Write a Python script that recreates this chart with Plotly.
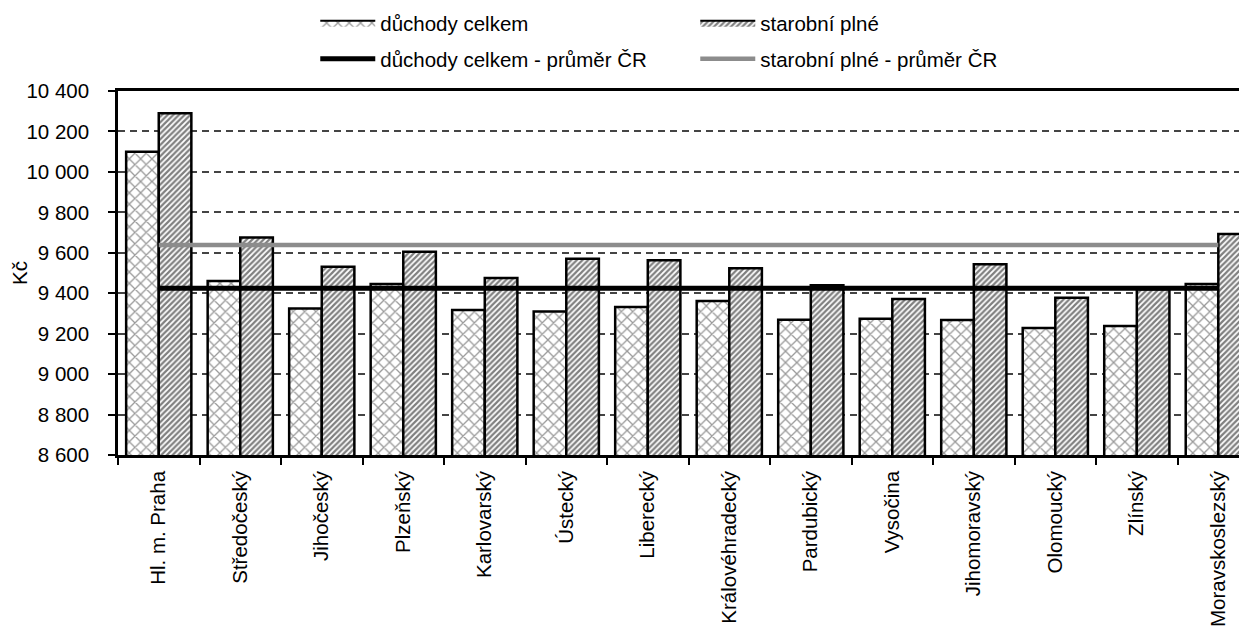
import plotly.graph_objects as go

regions = ["Hl. m. Praha", "Středočeský", "Jihočeský", "Plzeňský", "Karlovarský",
           "Ústecký", "Liberecký", "Královéhradecký", "Pardubický", "Vysočina",
           "Jihomoravský", "Olomoucký", "Zlínský", "Moravskoslezský"]
duchody_celkem = [10100, 9460, 9324, 9445, 9317, 9309, 9332, 9361, 9269, 9274, 9267, 9228, 9238, 9445]
starobni_plne = [10290, 9675, 9531, 9605, 9475, 9571, 9563, 9523, 9439, 9371, 9543, 9378, 9420, 9693]
prumer_celkem = 9424
prumer_starobni = 9638
y_ticks = [8600, 8800, 9000, 9200, 9400, 9600, 9800, 10000, 10200, 10400]
y_tick_text = ["8 600", "8 800", "9 000", "9 200", "9 400", "9 600", "9 800", "10 000", "10 200", "10 400"]

FONT = "Liberation Sans, Arial, sans-serif"
FS = 20.5

pat_celkem = dict(shape="x", fgcolor="#333333", bgcolor="white", size=8, solidity=0.3)
pat_starobni = dict(shape="/", fgcolor="#000000", bgcolor="white", size=4, solidity=0.55)

fig = go.Figure()
fig.add_trace(go.Bar(
    x=regions, y=duchody_celkem, name="důchody celkem", showlegend=False,
    marker=dict(color="white", line=dict(color="black", width=2.5), pattern=pat_celkem),
))
fig.add_trace(go.Bar(
    x=regions, y=starobni_plne, name="starobní plné", showlegend=False,
    marker=dict(color="white", line=dict(color="black", width=2.5), pattern=pat_starobni),
))
# legend-only entries (wide patterned keys like the original legend)
fig.add_trace(go.Scatter(
    x=[None], y=[None], name="důchody celkem", legend="legend", mode="lines",
    fill="toself", fillcolor="white", fillpattern=pat_celkem,
    line=dict(color="black", width=2),
))
fig.add_trace(go.Scatter(
    x=[None], y=[None], name="starobní plné", legend="legend", mode="lines",
    fill="toself", fillcolor="white", fillpattern=pat_starobni,
    line=dict(color="black", width=2),
))
fig.add_trace(go.Scatter(
    x=regions, y=[prumer_celkem] * len(regions), name="důchody celkem - průměr ČR",
    mode="lines", line=dict(color="black", width=5), legend="legend2",
))
fig.add_trace(go.Scatter(
    x=regions, y=[prumer_starobni] * len(regions), name="starobní plné - průměr ČR",
    mode="lines", line=dict(color="#8c8c8c", width=4.5), legend="legend2",
))

leg_common = dict(orientation="h", xanchor="left", yanchor="middle", yref="container",
                  entrywidth=310, entrywidthmode="pixels", itemwidth=55,
                  font=dict(family=FONT, size=FS), bgcolor="rgba(0,0,0,0)",
                  traceorder="normal")

fig.update_layout(
    width=1247, height=630,
    margin=dict(l=110, r=0, t=83, b=183, autoexpand=False),
    paper_bgcolor="white", plot_bgcolor="white",
    font=dict(family=FONT, size=FS, color="black"),
    barmode="group", bargap=0.2, bargroupgap=0,
    showlegend=True,
    legend=dict(x=0.1735, y=1 - 15 / 630, **leg_common),
    legend2=dict(x=0.1735, y=1 - 51 / 630, **leg_common),
    xaxis=dict(range=[-0.5, 13.45], showline=True, linecolor="black", linewidth=2.5, mirror=True,
               ticks="outside", tickson="boundaries", ticklen=7, tickcolor="black", tickwidth=1.5,
               tickangle=-90, showgrid=False, ticklabelstandoff=5,
               tickfont=dict(family=FONT, size=FS)),
    yaxis=dict(range=[8600, 10400], tickvals=y_ticks, ticktext=y_tick_text,
               showline=True, linecolor="black", linewidth=2.5, mirror=False,
               ticks="outside", ticklen=7, tickcolor="black", tickwidth=1.5,
               showgrid=True, gridcolor="#444444", gridwidth=1.5, griddash="7px,5px",
               zeroline=False, ticklabelstandoff=15,
               title=dict(text="Kč", standoff=20, font=dict(family=FONT, size=FS)),
               tickfont=dict(family=FONT, size=FS)),
)

fig.write_html("out.html")
